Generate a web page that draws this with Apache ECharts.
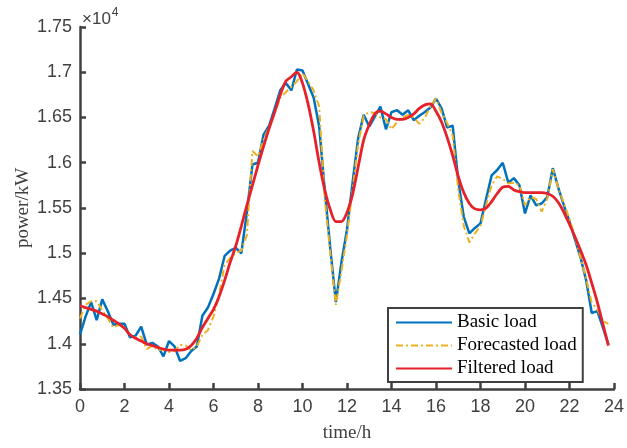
<!DOCTYPE html>
<html>
<head>
<meta charset="utf-8">
<script src="https://cdn.jsdelivr.net/npm/echarts@6/dist/echarts.min.js"></script>
<style>
html,body{margin:0;padding:0;background:#fff;}
#chart{width:627px;height:448px;}
</style>
</head>
<body>
<div id="chart"></div>
<script>
// time in hours (15-minute steps, 0 .. 23.75)
const hours = Array.from({length: 96}, (_, i) => i * 0.25);

// values in units of 1e4 kW
const basicLoad = [
  1.410,1.430,1.446,1.426,1.449,1.436,1.421,1.422,
  1.422,1.407,1.409,1.419,1.399,1.401,1.397,1.386,
  1.403,1.397,1.381,1.384,1.392,1.397,1.431,1.440,
  1.455,1.472,1.497,1.503,1.506,1.500,1.545,1.598,
  1.600,1.631,1.641,1.660,1.680,1.688,1.680,1.703,
  1.702,1.687,1.672,1.640,1.570,1.505,1.446,1.490,
  1.526,1.578,1.627,1.653,1.640,1.651,1.662,1.637,
  1.656,1.658,1.653,1.658,1.647,1.652,1.656,1.661,
  1.671,1.660,1.639,1.641,1.580,1.540,1.522,1.528,
  1.533,1.560,1.586,1.592,1.600,1.578,1.583,1.575,
  1.544,1.564,1.553,1.555,1.562,1.594,1.572,1.553,
  1.535,1.515,1.495,1.470,1.434,1.436,1.418,1.399
];

const forecastedLoad = [
  1.428,1.443,1.447,1.447,1.437,1.428,1.418,1.421,
  1.418,1.410,1.407,1.408,1.394,1.398,1.393,1.394,
  1.391,1.392,1.399,1.398,1.393,1.397,1.410,1.415,
  1.430,1.455,1.487,1.495,1.500,1.503,1.520,1.613,
  1.607,1.625,1.640,1.655,1.672,1.678,1.684,1.690,
  1.699,1.690,1.680,1.662,1.560,1.500,1.443,1.480,
  1.520,1.570,1.620,1.652,1.656,1.655,1.650,1.648,
  1.637,1.645,1.650,1.653,1.650,1.643,1.650,1.662,
  1.671,1.655,1.644,1.630,1.570,1.530,1.512,1.522,
  1.530,1.553,1.575,1.585,1.582,1.577,1.578,1.575,
  1.553,1.562,1.560,1.546,1.560,1.593,1.572,1.555,
  1.538,1.518,1.495,1.472,1.445,1.438,1.425,1.422
];

const filteredLoad = [
  1.442,1.440,1.438,1.436,1.433,1.430,1.426,1.422,
  1.417,1.410,1.406,1.403,1.400,1.398,1.396,1.394,
  1.393,1.393,1.393,1.394,1.398,1.406,1.418,1.428,
  1.438,1.452,1.470,1.490,1.508,1.530,1.553,1.575,
  1.597,1.618,1.638,1.656,1.675,1.690,1.695,1.700,
  1.688,1.665,1.635,1.600,1.570,1.548,1.535,1.535,
  1.545,1.565,1.595,1.625,1.642,1.654,1.657,1.654,
  1.650,1.648,1.648,1.650,1.654,1.660,1.664,1.665,
  1.657,1.645,1.628,1.608,1.585,1.567,1.555,1.549,
  1.548,1.550,1.557,1.566,1.573,1.574,1.570,1.568,
  1.567,1.567,1.567,1.567,1.566,1.563,1.556,1.545,
  1.532,1.518,1.503,1.487,1.467,1.446,1.422,1.398
];

const seriesNames = ['Basic load', 'Forecasted load', 'Filtered load'];
const xTicks = [0,2,4,6,8,10,12,14,16,18,20,22,24];
const yTicks = [1.35,1.4,1.45,1.5,1.55,1.6,1.65,1.7,1.75];

const pair = arr => hours.map((h, i) => [h, arr[i]]);
const axisColor = '#404040';

const chart = echarts.init(document.getElementById('chart'), null, {renderer: 'canvas'});
chart.setOption({
  animation: false,
  backgroundColor: '#ffffff',
  grid: {left: 80, right: 7, top: 27, bottom: 59, containLabel: false},
  xAxis: {
    type: 'value', min: xTicks[0], max: xTicks[xTicks.length - 1], interval: 2,
    name: 'time/h', nameLocation: 'middle', nameGap: 35, nameMoveOverlap: false,
    nameTextStyle: {fontFamily: 'Liberation Serif', fontSize: 19, color: axisColor},
    axisLine: {show: true, onZero: false, lineStyle: {color: axisColor, width: 2.5}},
    axisTick: {show: true, inside: true, length: 6, lineStyle: {color: axisColor, width: 2.5}},
    axisLabel: {fontFamily: 'Liberation Sans', fontSize: 18, color: axisColor, margin: 9, showMaxLabel: true},
    splitLine: {show: false}
  },
  yAxis: {
    type: 'value', min: yTicks[0], max: yTicks[yTicks.length - 1], interval: 0.05,
    name: 'power/kW', nameLocation: 'middle', nameGap: 47, nameRotate: 90, nameMoveOverlap: false,
    nameTextStyle: {fontFamily: 'Liberation Serif', fontSize: 19, color: axisColor},
    axisLine: {show: true, onZero: false, lineStyle: {color: axisColor, width: 2.5}},
    axisTick: {show: true, inside: true, length: 6, lineStyle: {color: axisColor, width: 2.5}},
    axisLabel: {fontFamily: 'Liberation Sans', fontSize: 18, color: axisColor, margin: 8,
      formatter: v => String(parseFloat(v.toFixed(2)))},
    splitLine: {show: false}
  },
  legend: {
    show: true, orient: 'vertical', left: 388, top: 308,
    data: seriesNames,
    itemWidth: 56, itemHeight: 14, itemGap: 4,
    padding: [5, 6, 4, 7],
    itemStyle: {opacity: 0, borderWidth: 0},
    backgroundColor: '#ffffff', borderColor: axisColor, borderWidth: 2, borderRadius: 0,
    textStyle: {fontFamily: 'Liberation Serif', fontSize: 19, color: '#000000', padding: [0, 0, 0, 0]}
  },
  graphic: [{
    type: 'text', left: 82, top: 7,
    style: {
      text: '{a|×10}{b|4}',
      rich: {
        a: {fontFamily: 'Liberation Sans', fontSize: 17, fill: axisColor, verticalAlign: 'bottom'},
        b: {fontFamily: 'Liberation Sans', fontSize: 12, fill: axisColor, verticalAlign: 'top', padding: [0, 0, 9, 1]}
      }
    }
  }],
  series: [
    {name: seriesNames[0], type: 'line', data: pair(basicLoad), symbol: 'none', showSymbol: false,
      lineStyle: {color: '#0072BD', width: 2.5}, itemStyle: {color: '#0072BD'}, z: 2},
    {name: seriesNames[1], type: 'line', data: pair(forecastedLoad), symbol: 'none', showSymbol: false,
      lineStyle: {color: '#EDB120', width: 2, type: [7, 3, 2, 3]}, itemStyle: {color: '#EDB120'}, z: 3},
    {name: seriesNames[2], type: 'line', data: pair(filteredLoad), symbol: 'none', showSymbol: false,
      smooth: 0.3,
      lineStyle: {color: '#E6212A', width: 2.8}, itemStyle: {color: '#E6212A'}, z: 4}
  ]
});
</script>
</body>
</html>
